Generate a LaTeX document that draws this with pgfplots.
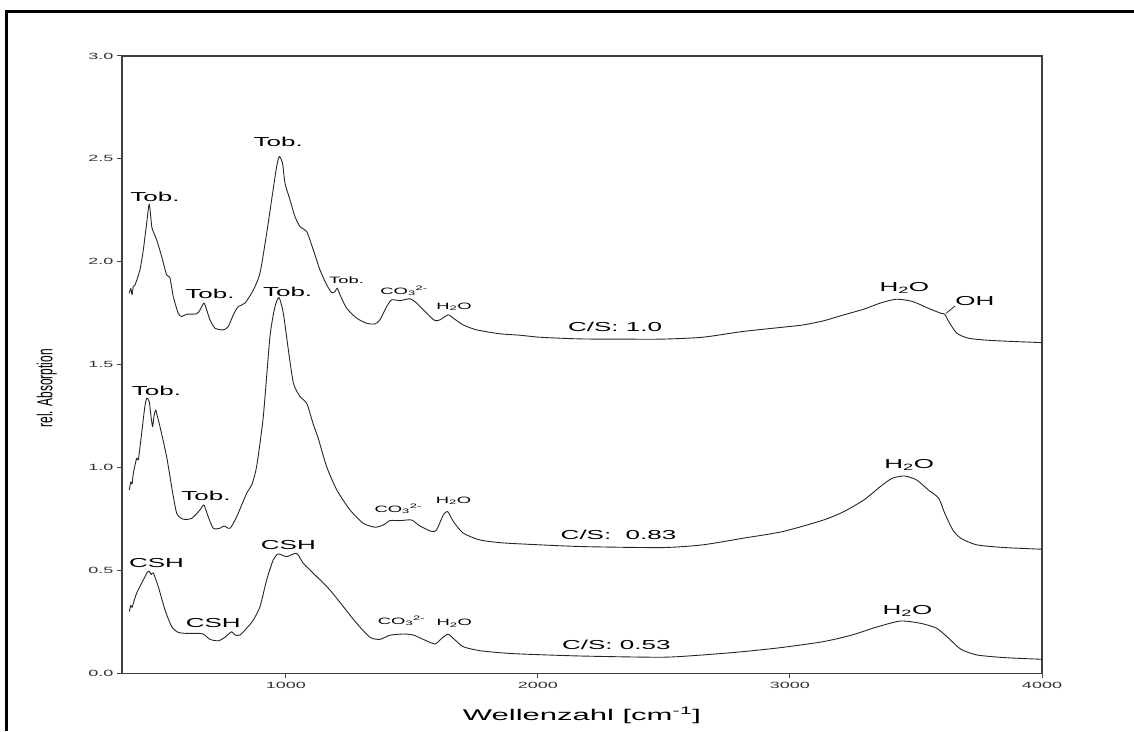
\documentclass[border=0pt]{standalone}
\usepackage{fontspec}
\setmainfont{Liberation Sans}[FakeStretch=2.0]
\newfontfamily\ylabfont{Liberation Sans}[FakeStretch=0.555]
\usepackage{pgfplots}
\pgfplotsset{compat=1.18}
\newcommand\lab{\fontsize{13}{15}\selectfont}
\newcommand\slab{\fontsize{9.2}{11}\selectfont}
\newcommand\tlab{\fontsize{9}{11}\selectfont}
\newcommand\sub[1]{\textsubscript{#1}}
\pgfplotstableread{
x y
379 1.847
385 1.87
390 1.84
395 1.88
402 1.888
421 1.96
434.6 2.058
448 2.188
458 2.28
468 2.171
474 2.147
487.6 2.106
507.5 2.025
527 1.936
540 1.923
553.5 1.831
573 1.750
587 1.734
606.6 1.745
646 1.747
659.5 1.766
675 1.799
686 1.766
699 1.718
719 1.677
752 1.669
771.8 1.685
791.6 1.742
811 1.782
838 1.799
871 1.863
897.5 1.945
924 2.139
943.6 2.301
963.6 2.463
974 2.511
987 2.479
996.6 2.382
1016.5 2.301
1036 2.22
1056 2.171
1082.7 2.147
1109 2.058
1135.5 1.96
1162 1.888
1182 1.85
1195 1.855
1204 1.872
1215 1.839
1241.5 1.774
1281 1.726
1321 1.701
1354 1.698
1373.5 1.718
1400 1.782
1420 1.815
1452.5 1.811
1492.5 1.82
1519 1.799
1558.5 1.75
1591.5 1.714
1611.5 1.718
1644.5 1.742
1664 1.726
1704 1.693
1757 1.669
1849.5 1.65
1929 1.643
2010 1.633
2170 1.625
2331 1.624
2491 1.624
2652 1.633
2812 1.661
2972 1.682
3053 1.693
3133 1.713
3214 1.742
3294 1.77
3358 1.799
3422 1.818
3486 1.807
3549 1.774
3598 1.75
3614 1.745
3630 1.709
3662 1.653
3710 1.628
3806 1.617
4000 1.607
}\cstop
\pgfplotstableread{
x y
379 0.891
385 0.93
390 0.92
395 0.972
408 1.045
415 1.04
428 1.167
440 1.29
448 1.337
458 1.32
466 1.24
471.6 1.199
477 1.25
483.6 1.28
490 1.25
500.7 1.199
527 1.053
547 0.907
567 0.778
593 0.749
626.5 0.753
659.5 0.794
675 0.818
692 0.761
712 0.705
738.8 0.705
754.6 0.716
778.4 0.705
805 0.761
844.7 0.875
864.5 0.915
884 1.004
910.5 1.247
937 1.636
957 1.782
973 1.826
990 1.75
1010 1.572
1030 1.41
1056 1.345
1082.7 1.313
1109 1.21
1129 1.14
1162 1.004
1202 0.891
1254.5 0.794
1307 0.729
1354 0.71
1387 0.721
1413 0.742
1453 0.742
1499 0.745
1532 0.716
1579 0.689
1598 0.697
1625 0.77
1642 0.786
1665 0.737
1704 0.681
1770 0.648
1849.5 0.635
1929 0.629
2170 0.616
2491 0.611
2652 0.624
2812 0.656
2972 0.689
3133 0.745
3214 0.786
3294 0.843
3358 0.907
3406 0.948
3454 0.959
3502 0.94
3549 0.891
3590 0.851
3614 0.778
3646 0.697
3678 0.656
3742 0.624
3854 0.611
4000 0.603
}\cmid
\pgfplotstableread{
x y
379 0.30
385 0.33
390 0.32
395 0.34
408 0.389
434.6 0.454
450 0.49
458 0.496
466 0.48
474 0.488
494 0.421
520.6 0.308
547 0.227
573 0.199
606.6 0.194
646 0.194
672.5 0.191
699 0.165
732 0.158
758.5 0.175
785 0.202
798 0.186
818 0.186
844.7 0.219
871 0.259
897.5 0.324
924 0.454
950 0.551
970 0.58
1003 0.567
1043 0.583
1069 0.535
1122.5 0.47
1175 0.405
1228 0.324
1281 0.243
1334 0.175
1373.5 0.165
1413 0.185
1466 0.191
1505.5 0.186
1545 0.165
1591.5 0.142
1611.5 0.162
1642 0.19
1664 0.170
1704 0.129
1770 0.11
1849.5 0.10
1929 0.094
2170 0.084
2491 0.078
2652 0.089
2812 0.105
2972 0.126
3133 0.154
3246 0.186
3342 0.224
3438 0.254
3518 0.243
3582 0.219
3630 0.170
3678 0.117
3742 0.089
3854 0.076
4000 0.068
}\cbot
\begin{document}
\begin{tikzpicture}
\useasboundingbox (0pt,0pt) rectangle (1134pt,731pt);
\draw[line width=3pt, line join=miter] (6.2pt,0pt) -- (6.2pt,719.3pt) -- (1134pt,719.3pt);
\begin{axis}[
  at={(122pt,57.7pt)}, anchor=south west, scale only axis,
  width=920pt, height=617.3pt,
  xmin=350, xmax=4000, ymin=0, ymax=3,
  clip=false,
  axis line style={black!75, line width=1.1pt},
  tick style={black!75, line width=1pt},
  tick align=outside, tick pos=left,
  major tick length=5pt,
  xtick={1000,2000,3000,4000},
  ytick={0,0.5,1,1.5,2,2.5,3},
  /pgf/number format/assume math mode=true,
  xticklabel style={/pgf/number format/set thousands separator={}, font=\tlab, text=black!80},
  yticklabel style={/pgf/number format/.cd, fixed, fixed zerofill, precision=1, /tikz/.cd, font=\tlab, text=black!80},
  xlabel={Wellenzahl [cm\textsuperscript{-1}]},
  xlabel style={font=\fontsize{15.5}{18}\selectfont, at={(axis description cs:0.5,0)}, anchor=base, yshift=-46.7pt},
  ylabel={rel. Absorption},
  ylabel style={font=\ylabfont\fontsize{21.5}{24}\selectfont, at={(axis description cs:-0.0818,0.4617)}, anchor=center},
]
\addplot[black!85, line width=0.9pt, line join=round, no markers, smooth, tension=0.4] table[x=x,y=y]{\cstop};
\addplot[black!85, line width=0.9pt, line join=round, no markers, smooth, tension=0.4] table[x=x,y=y]{\cmid};
\addplot[black!85, line width=0.9pt, line join=round, no markers, smooth, tension=0.4] table[x=x,y=y]{\cbot};
% labels top
\node[font=\lab] at (axis cs:481,2.317) {Tob.};
\node[font=\lab] at (axis cs:970,2.585) {Tob.};
\node[font=\lab] at (axis cs:699,1.842) {Tob.};
\node[font=\slab] at (axis cs:1241,1.912) {Tob.};
\node[font=\slab] at (axis cs:1469,1.86) {CO\sub{3}\textsuperscript{2-}};
\node[font=\slab] at (axis cs:1667,1.782) {H\sub{2}O};
\node[font=\lab] at (axis cs:2306,1.682) {C/S: 1.0};
\node[font=\lab] at (axis cs:3454,1.872) {H\sub{2}O};
\node[font=\lab] at (axis cs:3734,1.807) {OH};
\draw[black!85, line width=0.8pt] (axis cs:3620,1.75) -- (axis cs:3655,1.785);
% labels middle
\node[font=\lab] at (axis cs:487,1.374) {Tob.};
\node[font=\lab] at (axis cs:1007,1.855) {Tob.};
\node[font=\lab] at (axis cs:683,0.862) {Tob.};
\node[font=\slab] at (axis cs:1446,0.80) {CO\sub{3}\textsuperscript{2-}};
\node[font=\slab] at (axis cs:1665,0.839) {H\sub{2}O};
\node[font=\lab] at (axis cs:2320,0.672) {C/S:\ \ 0.83};
\node[font=\lab] at (axis cs:3473,1.013) {H\sub{2}O};
% labels bottom
\node[font=\lab] at (axis cs:487,0.535) {CSH};
\node[font=\lab] at (axis cs:1010,0.624) {CSH};
\node[font=\lab] at (axis cs:712,0.243) {CSH};
\node[font=\slab] at (axis cs:1459,0.254) {CO\sub{3}\textsuperscript{2-}};
\node[font=\slab] at (axis cs:1668,0.243) {H\sub{2}O};
\node[font=\lab] at (axis cs:2311,0.138) {C/S: 0.53};
\node[font=\lab] at (axis cs:3466,0.304) {H\sub{2}O};
\end{axis}
\end{tikzpicture}
\end{document}
